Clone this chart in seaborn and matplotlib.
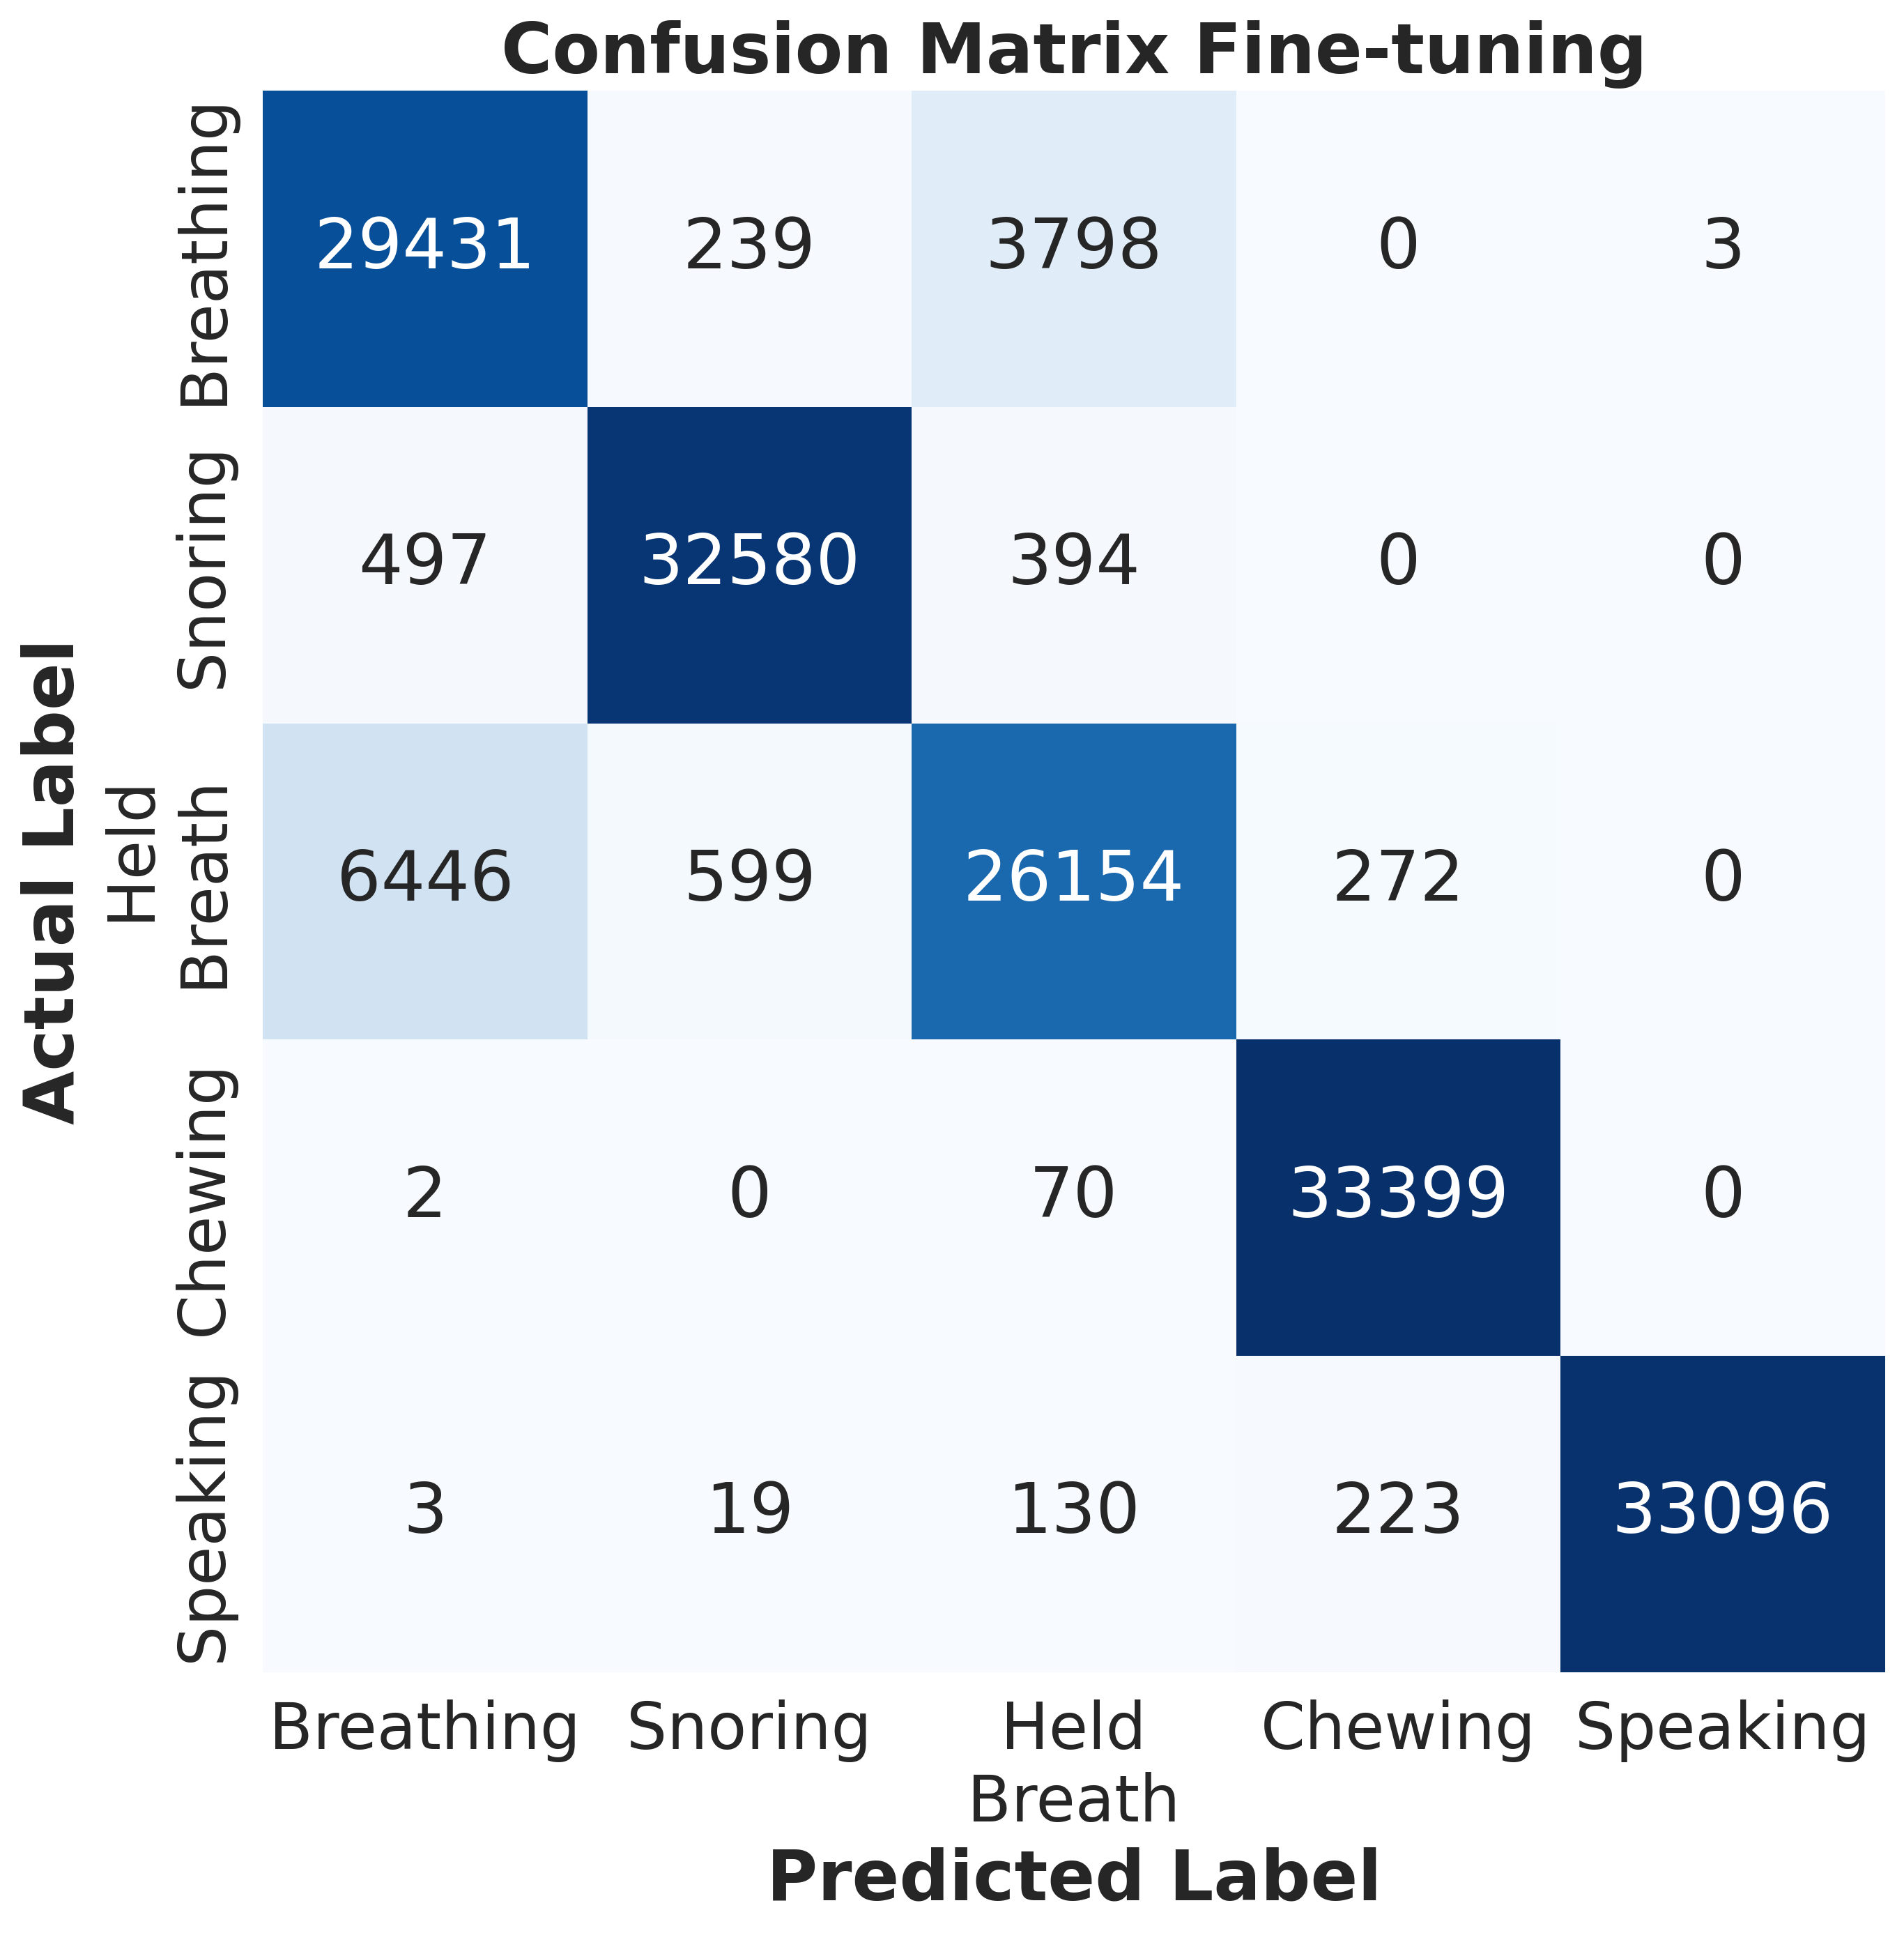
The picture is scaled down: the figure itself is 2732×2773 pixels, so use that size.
import numpy as np
import pandas as pd
import seaborn as sns
from matplotlib import pyplot as plt

classes = ['Breathing', 'Snoring', 'Held\nBreath', 'Chewing', 'Speaking']

row_breathing = [29431, 239, 3798, 0, 3]
row_snoring = [497, 32580, 394, 0, 0]
row_held = [6446, 599, 26154, 272, 0]
row_chewing = [2, 0, 70, 33399, 0]
row_speaking = [3, 19, 130, 223, 33096]

cm = pd.DataFrame([row_breathing, row_snoring, row_held, row_chewing, row_speaking],
                  index=classes, columns=classes)

sns.set(font_scale=2, style='white')

DPI = 300
fig, ax = plt.subplots(figsize=(2732 / DPI, 2773 / DPI), dpi=DPI)
fig.subplots_adjust(left=0.138, right=0.99, top=0.953, bottom=0.135)

sns.heatmap(cm, annot=True, fmt='d', cmap='Blues', cbar=False, ax=ax)

ax.set_title('Confusion Matrix Fine-tuning', fontweight='bold')
ax.set_xlabel('Predicted Label', fontweight='bold')
ax.set_ylabel('Actual Label', fontweight='bold')
plt.setp(ax.get_xticklabels(), rotation=0)

fig.savefig('out.png', dpi=DPI)
